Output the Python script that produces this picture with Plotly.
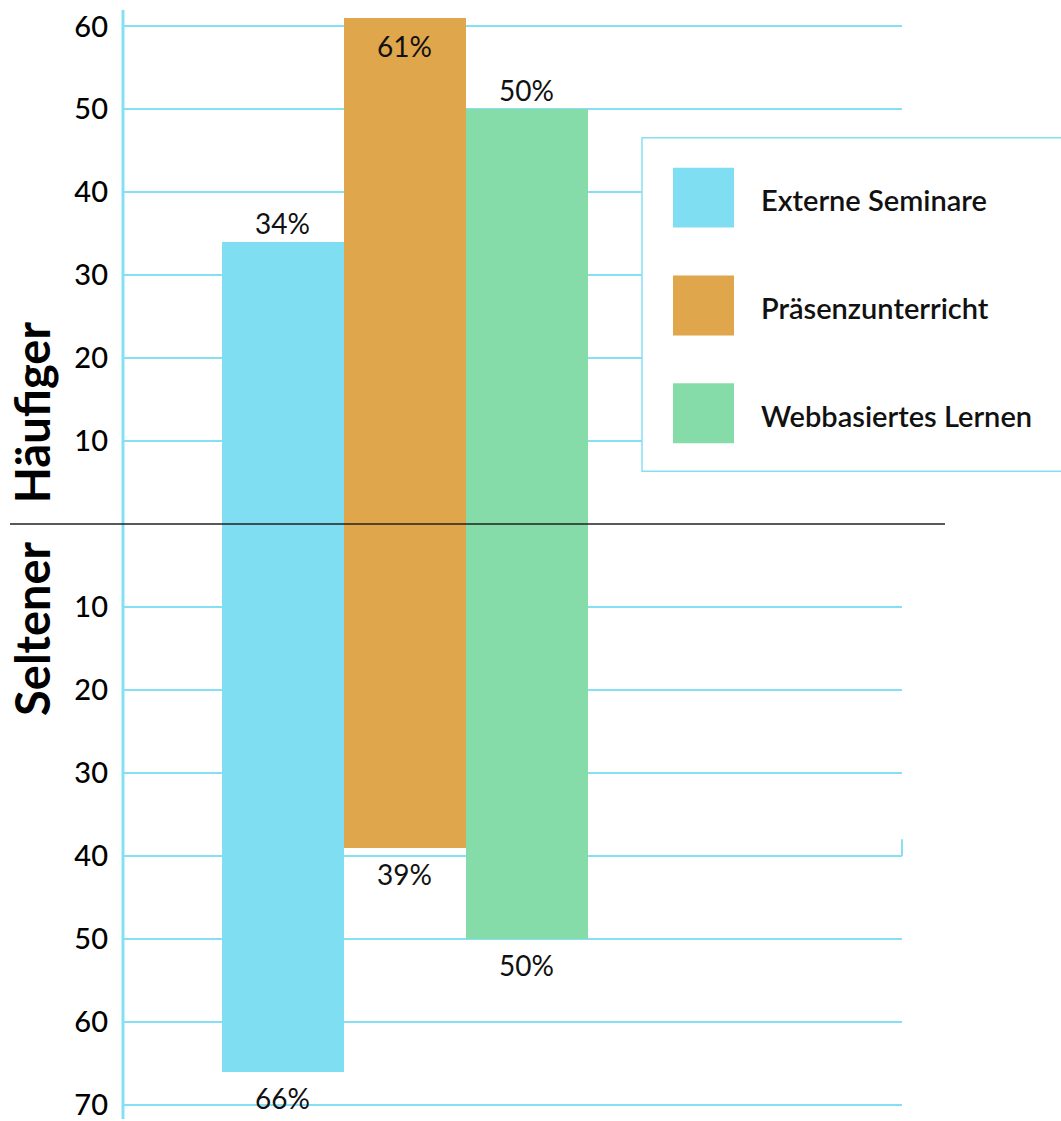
import plotly.graph_objects as go

categories = ["Externe Seminare", "Präsenzunterricht", "Webbasiertes Lernen"]
haeufiger = [34, 61, 50]
seltener = [66, 39, 50]
colors = ["#80DEF2", "#E0A64B", "#86DCA8"]
tick_vals = [60, 50, 40, 30, 20, 10, -10, -20, -30, -40, -50, -60, -70]
tick_text = ["60", "50", "40", "30", "20", "10", "10", "20", "30", "40", "50", "60", "70"]

W, H = 1061, 1121
L, R = 123, 902          # plot area pixel edges
PW = R - L

def px(x):  # pixel x -> paper x
    return (x - L) / PW

def py(y):  # pixel y -> paper y
    return 1 - y / H

FONT = "Lato"
grid_color = "#86E0F3"

fig = go.Figure()
for i, cat in enumerate(categories):
    fig.add_trace(go.Bar(x=[cat], y=[haeufiger[i]], marker=dict(color=colors[i], line=dict(width=0)),
                         width=1, showlegend=False, hoverinfo="skip"))
    fig.add_trace(go.Bar(x=[cat], y=[-seltener[i]], marker=dict(color=colors[i], line=dict(width=0)),
                         width=1, showlegend=False, hoverinfo="skip"))

annotations = []
lab_font = dict(family=FONT, size=28, color="#111")
for i, cat in enumerate(categories):
    up = haeufiger[i]
    if up > 58:
        annotations.append(dict(x=cat, y=up, text=f"{up}%", showarrow=False, yshift=-28, font=lab_font))
    else:
        annotations.append(dict(x=cat, y=up, text=f"{up}%", showarrow=False, yshift=19, font=lab_font))
    dn = seltener[i]
    annotations.append(dict(x=cat, y=-dn, text=f"{dn}%", showarrow=False, yshift=-26, font=lab_font))

# axis titles
annotations.append(dict(xref="paper", yref="paper", x=px(32), y=py(413), xanchor="center", yanchor="middle",
                        text="<b>Häufiger</b>", textangle=-90, showarrow=False,
                        font=dict(family=FONT, size=47, color="#000")))
annotations.append(dict(xref="paper", yref="paper", x=px(32), y=py(630), xanchor="center", yanchor="middle",
                        text="<b>Seltener</b>", textangle=-90, showarrow=False,
                        font=dict(family=FONT, size=47, color="#000")))

shapes = []
# y axis line
shapes.append(dict(type="line", xref="paper", yref="paper", x0=0, x1=0, y0=py(10), y1=py(H),
                   line=dict(color=grid_color, width=3), layer="above"))
# zero line
shapes.append(dict(type="line", xref="paper", yref="y", x0=px(10), x1=px(945), y0=0, y1=0,
                   line=dict(color="#222", width=1.5), layer="above"))
# small stub at right end of the 40 gridline
shapes.append(dict(type="line", xref="paper", yref="y", x0=1, x1=1, y0=-38, y1=-40,
                   line=dict(color=grid_color, width=2), layer="above"))
# legend box
shapes.append(dict(type="rect", xref="paper", yref="paper", x0=px(642), x1=px(1062), y0=py(472), y1=py(138),
                   line=dict(color=grid_color, width=1.5), fillcolor="white", layer="above"))
legend_rows = [198, 306, 414]
for i, cat in enumerate(categories):
    yc = legend_rows[i]
    shapes.append(dict(type="rect", xref="paper", yref="paper", x0=px(673), x1=px(734),
                       y0=py(yc + 30), y1=py(yc - 30), line=dict(width=0), fillcolor=colors[i], layer="above"))
    annotations.append(dict(xref="paper", yref="paper", x=px(759), y=py(yc + 2), xanchor="left", yanchor="middle",
                            text=cat, showarrow=False, font=dict(family=FONT, size=29, color="#111", weight=600)))

fig.update_layout(
    width=W, height=H,
    margin=dict(l=L, r=W - R, t=0, b=0),
    paper_bgcolor="white", plot_bgcolor="white",
    barmode="relative", bargap=0,
    xaxis=dict(range=[-1.311, 5.074], showgrid=False, showticklabels=False, zeroline=False,
               showline=False, fixedrange=True),
    yaxis=dict(range=[-71.72, 63.18], tickvals=tick_vals, ticktext=tick_text, showgrid=True,
               gridcolor=grid_color, gridwidth=2, zeroline=False, showline=False, ticks="",
               ticklabelstandoff=14, ticklabeloverflow="allow",
               tickfont=dict(family=FONT, size=29, color="#000", weight=500)),
    shapes=shapes,
    annotations=annotations,
)

fig.write_html("out.html")
